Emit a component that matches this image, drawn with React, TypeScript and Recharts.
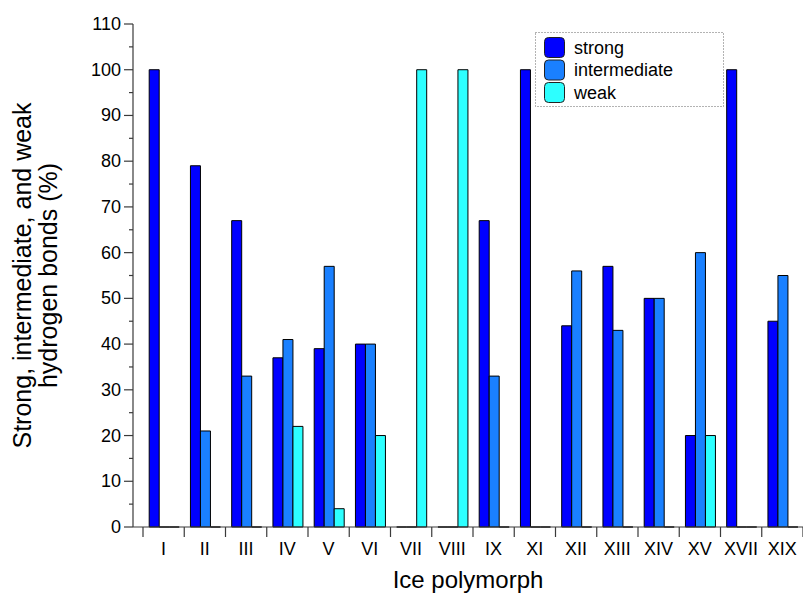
import React from 'react';
import { BarChart, Bar, XAxis, YAxis, Legend } from 'recharts';

// Ice polymorphs along the category axis
const polymorphs = ['I', 'II', 'III', 'IV', 'V', 'VI', 'VII', 'VIII', 'IX', 'XI', 'XII', 'XIII', 'XIV', 'XV', 'XVII', 'XIX'];

// Share of each hydrogen-bond class per polymorph (%)
const strongBonds = [100, 79, 67, 37, 39, 40, 0, 0, 67, 100, 44, 57, 50, 20, 100, 45];
const intermediateBonds = [0, 21, 33, 41, 57, 40, 0, 0, 33, 0, 56, 43, 50, 60, 0, 55];
const weakBonds = [0, 0, 0, 22, 4, 20, 100, 100, 0, 0, 0, 0, 0, 20, 0, 0];

// Series order used by the legend
const seriesOrder = ['strong', 'intermediate', 'weak'];

// Major ticks every 10, minor ticks in between
const yTicks = [0, 5, 10, 15, 20, 25, 30, 35, 40, 45, 50, 55, 60, 65, 70, 75, 80, 85, 90, 95, 100, 105, 110];

const rows = polymorphs.map((name, i) => ({
  name,
  strong: strongBonds[i],
  intermediate: intermediateBonds[i],
  weak: weakBonds[i],
}));

const FONT = '"Liberation Sans", Arial, Helvetica, sans-serif';
const AXIS = '#3a3a3a';

// Bars drawn as paths so zero-height bars still leave their outline on the baseline
const BarShape = (props: any) => {
  const { x, y, width, height, fill } = props;
  if (x == null || y == null || width == null || height == null) return null;
  const d = `M${x},${y + height} L${x},${y} L${x + width},${y} L${x + width},${y + height} Z`;
  return <path d={d} fill={fill} stroke="#000" strokeWidth={1} />;
};

const YTick = (props: any) => {
  const { x, y, payload } = props;
  const v = payload.value;
  const major = v % 10 === 0;
  return (
    <g>
      <line x1={x - (major ? 9 : 4)} x2={x} y1={y} y2={y} stroke={AXIS} strokeWidth={1.2} />
      {major && (
        <text x={x - 12} y={y} textAnchor="end" dominantBaseline="central" fontSize={18} fontFamily={FONT} fill="#000">
          {v}
        </text>
      )}
    </g>
  );
};

const XTick = (props: any) => {
  const { x, y, payload, index } = props;
  const half = payload.offset ?? 0;
  return (
    <g>
      <line x1={x - half} x2={x - half} y1={y} y2={y + 10} stroke={AXIS} strokeWidth={1.2} />
      {index === polymorphs.length - 1 && (
        <line x1={x + half} x2={x + half} y1={y} y2={y + 10} stroke={AXIS} strokeWidth={1.2} />
      )}
      <text x={x} y={y + 28} textAnchor="middle" fontSize={18} fontFamily={FONT} fill="#000">
        {payload.value}
      </text>
    </g>
  );
};

const LegendBox = (props: any) => {
  const payload = [...(props.payload || [])].sort(
    (a: any, b: any) => seriesOrder.indexOf(a.dataKey) - seriesOrder.indexOf(b.dataKey)
  );
  return (
    <svg width={190} height={76} style={{ display: 'block' }}>
      <rect x={0.5} y={0.5} width={188} height={74} fill="#fff" stroke="#666" strokeDasharray="1 2" />
      {payload.map((p: any, i: number) => (
        <g key={p.value}>
          <rect x={9.5} y={5.5 + i * 22.5} width={20} height={20} rx={4} fill={p.color} stroke="#222" strokeWidth={1} />
          <text x={39} y={15.5 + i * 22.5} dominantBaseline="central" fontSize={18} fontFamily={FONT} fill="#000">
            {p.value}
          </text>
        </g>
      ))}
    </svg>
  );
};

const YTitle = (props: any) => {
  const vb = props.viewBox || { y: 24, height: 503 };
  const cy = vb.y + vb.height / 2;
  return (
    <g fontFamily={FONT} fontSize={25} fill="#000">
      <text x={31} y={cy} textAnchor="middle" transform={`rotate(-90, 31, ${cy})`}>
        Strong, intermediate, and weak
      </text>
      <text x={57} y={cy} textAnchor="middle" transform={`rotate(-90, 57, ${cy})`}>
        hydrogen bonds (%)
      </text>
    </g>
  );
};

const XTitle = (props: any) => {
  const vb = props.viewBox || { x: 133, y: 527, width: 670 };
  return (
    <text x={vb.x + vb.width / 2} y={vb.y + 61} textAnchor="middle" fontSize={24} fontFamily={FONT} fill="#000">
      Ice polymorph
    </text>
  );
};

export default function App() {
  return (
    <div style={{ position: 'absolute', left: 0, top: 0, width: 803, height: 593, background: '#fff' }}>
      <BarChart
        width={803}
        height={593}
        data={rows}
        margin={{ top: 24, right: 0, bottom: 0, left: 0 }}
        barCategoryGap="15%"
        barGap={0}
      >
        <XAxis
          dataKey="name"
          xAxisId="bottom"
          height={66}
          padding={{ left: 10, right: 0 }}
          interval={0}
          tickSize={0}
          tickMargin={0}
          tickLine={false}
          axisLine={{ stroke: AXIS, strokeWidth: 1.2 }}
          tick={<XTick />}
          label={{ content: <XTitle /> }}
        />
        <XAxis
          dataKey="name"
          xAxisId="top"
          orientation="top"
          height={0}
          tick={false}
          tickLine={false}
          axisLine={{ stroke: AXIS, strokeWidth: 1.2 }}
        />
        <YAxis
          width={133}
          domain={[0, 110]}
          ticks={yTicks}
          interval={0}
          tickSize={0}
          tickMargin={0}
          tickLine={false}
          axisLine={{ stroke: AXIS, strokeWidth: 1.2 }}
          tick={<YTick />}
          label={{ content: <YTitle /> }}
        />
        <Legend
          layout="vertical"
          align="center"
          verticalAlign="middle"
          content={<LegendBox />}
          wrapperStyle={{ position: 'absolute', left: 535, top: 32, width: 190, height: 76 }}
        />
        <Bar dataKey="strong" name="strong" xAxisId="bottom" fill="#0000FF" shape={<BarShape />} isAnimationActive={false} />
        <Bar dataKey="intermediate" name="intermediate" xAxisId="bottom" fill="#1A80FF" shape={<BarShape />} isAnimationActive={false} />
        <Bar dataKey="weak" name="weak" xAxisId="bottom" fill="#2DFFFF" shape={<BarShape />} isAnimationActive={false} />
      </BarChart>
    </div>
  );
}
